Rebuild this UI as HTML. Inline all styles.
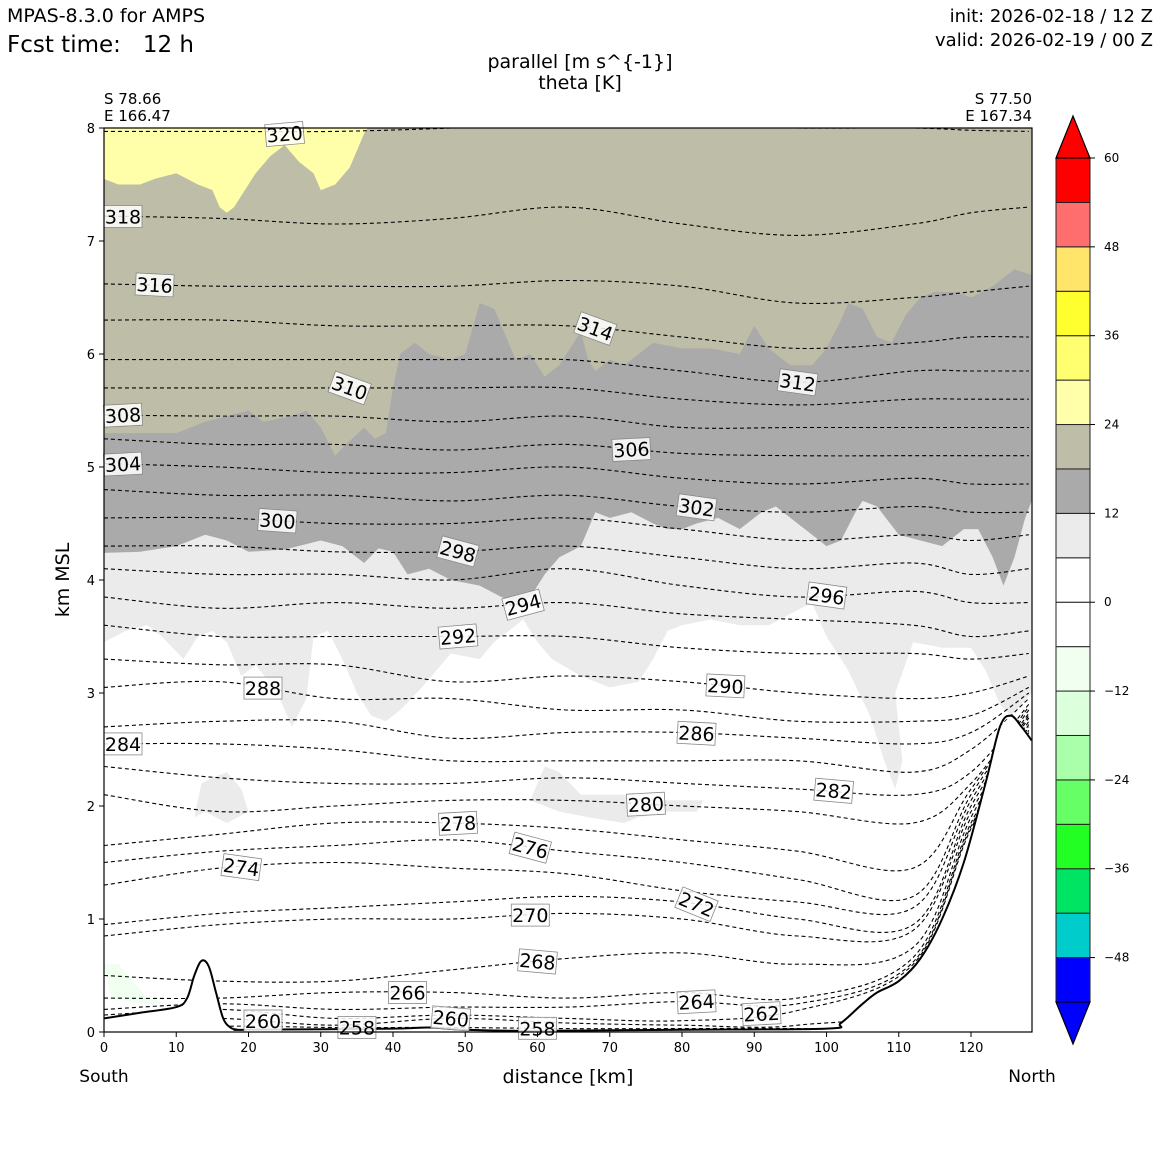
<!DOCTYPE html>
<html><head><meta charset="utf-8"><style>
html,body{margin:0;padding:0;background:#fff;}
svg text{font-family:"DejaVu Sans","Liberation Sans",sans-serif;fill:#000;}
</style></head><body>
<svg id="fig" width="1160" height="1160" viewBox="0 0 1160 1160" xmlns="http://www.w3.org/2000/svg">
<defs><clipPath id="plotclip"><rect x="104" y="128" width="928" height="904"/></clipPath></defs>
<rect width="1160" height="1160" fill="#fff"/>
<text x="7" y="22" font-size="19">MPAS-8.3.0 for AMPS</text>
<text x="7" y="52" font-size="23" xml:space="preserve">Fcst time:   12 h</text>
<text x="1153" y="22" font-size="18" text-anchor="end">init: 2026-02-18 / 12 Z</text>
<text x="1153" y="46" font-size="18" text-anchor="end">valid: 2026-02-19 / 00 Z</text>
<text x="580" y="68" font-size="19" text-anchor="middle">parallel [m s^{-1}]</text>
<text x="580" y="89" font-size="19" text-anchor="middle">theta [K]</text>
<text x="104" y="104" font-size="15">S 78.66</text>
<text x="104" y="121" font-size="15">E 166.47</text>
<text x="1032" y="104" font-size="15" text-anchor="end">S 77.50</text>
<text x="1032" y="121" font-size="15" text-anchor="end">E 167.34</text>
<text x="0" y="0" font-size="19" text-anchor="middle" transform="translate(69,580) rotate(-90)">km MSL</text>
<text x="568" y="1083" font-size="19" text-anchor="middle">distance [km]</text>
<text x="104" y="1082" font-size="17" text-anchor="middle">South</text>
<text x="1032" y="1082" font-size="17" text-anchor="middle">North</text>
<g id="plot" clip-path="url(#plotclip)"></g>
<g id="labels"></g>
<g id="axes"></g>
<g id="cbar"></g>
</svg>
<script>
const xGrid = [0,16,32,48,64,80,96,112,120,128];
const thetaLevels = [258,260,262,264,266,268,270,272,274,276,278,280,282,284,286,288,290,292,294,296,298,300,302,304,306,308,310,312,314,316,318,320];
const thetaHeights = [
[0.0,0.05,0.04,0.04,0.03,0.03,0.03,0.0,0,0],
[0.1,0.12,0.06,0.12,0.08,0.06,0.06,0.3,1.5,2.5],
[0.15,0.2,0.12,0.15,0.12,0.1,0.19,0.6,1.8,2.65],
[0.2,0.25,0.2,0.22,0.22,0.27,0.25,0.62,1.82,2.67],
[0.3,0.3,0.35,0.35,0.3,0.35,0.3,0.66,1.85,2.7],
[0.5,0.45,0.45,0.55,0.65,0.7,0.6,0.75,1.9,2.72],
[0.85,0.95,1.0,1.0,1.05,1.0,0.85,0.9,1.95,2.75],
[0.95,1.05,1.1,1.15,1.2,1.15,1.0,0.95,2.0,2.78],
[1.3,1.45,1.5,1.45,1.4,1.25,1.15,1.1,2.05,2.8],
[1.5,1.6,1.65,1.7,1.6,1.5,1.35,1.2,2.1,2.82],
[1.65,1.75,1.85,1.85,1.8,1.7,1.6,1.45,2.15,2.85],
[2.1,1.95,2.0,2.05,2.05,2.0,1.95,1.85,2.2,2.88],
[2.35,2.25,2.2,2.2,2.25,2.2,2.15,2.1,2.3,2.9],
[2.55,2.55,2.5,2.4,2.4,2.4,2.4,2.3,2.5,2.95],
[2.7,2.75,2.75,2.6,2.65,2.65,2.6,2.55,2.65,3.0],
[3.05,3.1,2.95,2.95,2.85,2.85,2.75,2.75,2.8,3.05],
[3.3,3.25,3.25,3.1,3.15,3.1,3.0,2.95,3.0,3.15],
[3.6,3.5,3.5,3.5,3.5,3.4,3.35,3.35,3.3,3.35],
[3.85,3.75,3.8,3.75,3.8,3.7,3.65,3.6,3.5,3.55],
[4.1,4.05,4.05,4.0,4.1,3.95,3.85,3.9,3.8,3.8],
[4.3,4.3,4.25,4.25,4.3,4.2,4.1,4.15,4.05,4.1],
[4.55,4.55,4.5,4.5,4.55,4.45,4.35,4.4,4.35,4.4],
[4.8,4.75,4.75,4.7,4.75,4.65,4.6,4.65,4.6,4.6],
[5.03,5.0,4.95,4.95,5.0,4.9,4.85,4.9,4.85,4.85],
[5.25,5.2,5.2,5.15,5.2,5.12,5.1,5.1,5.1,5.1],
[5.46,5.45,5.45,5.4,5.45,5.35,5.35,5.35,5.35,5.35],
[5.7,5.7,5.7,5.7,5.7,5.6,5.55,5.6,5.6,5.6],
[5.95,5.95,5.95,5.95,5.95,5.85,5.75,5.85,5.85,5.85],
[6.3,6.3,6.25,6.25,6.25,6.15,6.05,6.1,6.15,6.15],
[6.62,6.6,6.6,6.6,6.65,6.6,6.45,6.5,6.55,6.6],
[7.22,7.2,7.15,7.2,7.3,7.15,7.05,7.15,7.25,7.3],
[7.97,7.97,7.97,8.0,8.05,8.02,8.0,8.0,7.98,7.97]];
const labelLevels = [320,318,316,314,312,310,308,306,304,302,300,298,296,294,292,290,288,286,284,282,280,278,276,274,272,270,268,266,264,262,260,258,260,258];
const labelKm =     [25,2.5,7,68,96,34,2.3,73,2.3,82,24,49,100,58,49,86,22,82,2.5,101,75,49,59,19,82,59,60,42,82,91,48,60,22,35];
const labelAngle =  [-5,0,3,20,8,20,-3,-3,-3,8,4,15,8,-15,-5,3,0,3,0,5,-3,-3,15,8,22,0,5,0,-3,-3,5,0,0,0];
const terrainKm = [0,5,10,11.5,12.5,13.5,14.5,15.5,16.5,17.5,18.5,20,40,45,50,60,80,100,102,105,107,110,113,116,119,122,124,125.5,127,128.4];
const terrainH  = [0.12,0.17,0.22,0.3,0.5,0.63,0.58,0.35,0.12,0.04,0.02,0.02,0.03,0.04,0.02,0.01,0.02,0.03,0.08,0.25,0.35,0.45,0.65,1.0,1.5,2.2,2.7,2.8,2.7,2.58];
const fillLightGrey = [[0,3.45],[3,3.55],[6,3.6],[8,3.5],[11,3.3],[13,3.5],[15,3.55],[17,3.45],[19,3.15],[21,3.25],[24,3.0],[26,2.7],[28,2.95],[29,3.5],[31,3.55],[33,3.3],[35,3.0],[37,2.8],[39,2.75],[41,2.85],[44,3.05],[46,3.2],[48,3.35],[52,3.3],[54,3.45],[56,3.55],[58,3.65],[60,3.45],[62,3.3],[66,3.15],[70,3.05],[74,3.1],[76,3.3],[78,3.55],[80,3.6],[84,3.65],[88,3.6],[92,3.6],[95,3.7],[98,3.8],[100,3.5],[103,3.2],[106,2.8],[108,2.4],[109.5,2.15],[110.5,2.4],[109.5,3.0],[112,3.45],[116,3.4],[120,3.4],[122,3.2],[124,2.9],[125.5,2.8],[127,2.9],[128.4,3.0]];
const fillGrey = [[0,4.24],[5,4.25],[10,4.3],[14,4.4],[17,4.35],[20,4.25],[25,4.27],[30,4.35],[33,4.3],[36,4.15],[38,4.28],[40,4.25],[42,4.05],[45,4.1],[48,4.0],[52,3.95],[55,3.85],[57,3.8],[59,3.85],[61,4.05],[63,4.2],[66,4.3],[68,4.6],[70,4.55],[73,4.6],[76,4.5],[78,4.45],[80,4.45],[82,4.5],[85,4.55],[88,4.45],[91,4.6],[93,4.65],[96,4.5],[98,4.4],[100,4.3],[102,4.35],[104,4.6],[105,4.7],[107,4.65],[110,4.4],[113,4.35],[116,4.3],[119,4.45],[121,4.45],[123,4.2],[124.5,3.95],[126,4.2],[127.5,4.55],[128.4,4.7]];
const fillOlive = [[0,5.3],[5,5.3],[10,5.3],[14,5.4],[20,5.5],[22,5.4],[26,5.45],[28,5.5],[30,5.35],[32,5.1],[33.5,5.2],[36,5.35],[37.5,5.25],[39,5.3],[40,5.7],[41,6.0],[43,6.1],[45,6.0],[48,5.95],[50,6.0],[52,6.45],[54,6.4],[56,6.1],[57,5.95],[59,6.0],[61,5.8],[63,5.9],[65,6.1],[66,6.2],[67,5.95],[68,5.85],[70,5.95],[72,5.9],[74,6.0],[76,6.1],[80,6.05],[84,6.05],[88,6.0],[90,6.25],[92,6.05],[95,5.9],[98,5.9],[100,6.05],[102,6.3],[103,6.45],[105,6.4],[107,6.15],[109,6.1],[111,6.35],[113,6.5],[115,6.55],[118,6.55],[120,6.5],[123,6.6],[126,6.75],[128.4,6.7]];
const fillYellow = [[0,7.55],[2,7.5],[5,7.5],[7,7.55],[10,7.6],[13,7.5],[15,7.45],[16,7.3],[17,7.25],[18,7.3],[19,7.4],[21,7.6],[23,7.75],[25,7.85],[27,7.7],[29,7.6],[30,7.45],[32,7.5],[34,7.65],[35,7.8],[36,7.95],[36.5,8.0]];
const blobA = [[12.5,1.9],[13.5,2.2],[15,2.25],[17,2.3],[19,2.15],[20,1.95],[17,1.85],[14,1.95]];
const blobB = [[59,2.05],[61,2.35],[63,2.3],[66,2.1],[70,2.1],[74,2.1],[78,2.05],[83,2.05],[82,1.95],[78,1.95],[74,1.9],[72,1.85],[67,1.9],[63,1.95]];
const blobGreen = [[0,0.6],[2,0.6],[4,0.45],[6,0.3],[9,0.25],[5,0.25],[1,0.3]];
const cbLevels = [-54,-48,-42,-36,-30,-24,-18,-12,-6,0,6,12,18,24,30,36,42,48,54,60];
const cbColors = ['#0000ff','#00cccc','#00e464','#22ff22','#66ff66','#aaffaa','#dcffdc','#f0fff0','#ffffff','#ffffff','#ebebeb','#aaaaaa','#bebea8','#ffffaa','#ffff70','#ffff30','#ffe66a','#ff6e6e','#ff0000'];
const cbTicks = [60,48,36,24,12,0,-12,-24,-36,-48];
const xTicks = [0,10,20,30,40,50,60,70,80,90,100,110,120];
const yTicks = [0,1,2,3,4,5,6,7,8];

const NS='http://www.w3.org/2000/svg';
const X0=104,X1=1032,Y0=1032,Y1=128,KMAX=128.44;
const sx=k=>X0+k*(X1-X0)/KMAX;
const sy=h=>Y0-h*(Y0-Y1)/8;
function mk(tag,attrs,parent){const e=document.createElementNS(NS,tag);for(const k in attrs)e.setAttribute(k,attrs[k]);parent.appendChild(e);return e;}
const plot=document.getElementById('plot'),labels=document.getElementById('labels'),axes=document.getElementById('axes'),cbar=document.getElementById('cbar');
function smooth(pts){let d='M'+pts[0][0].toFixed(1)+','+pts[0][1].toFixed(1);
 for(let i=0;i<pts.length-1;i++){const p0=pts[Math.max(0,i-1)],p1=pts[i],p2=pts[i+1],p3=pts[Math.min(pts.length-1,i+2)];
 const c1=[p1[0]+(p2[0]-p0[0])/6,p1[1]+(p2[1]-p0[1])/6],c2=[p2[0]-(p3[0]-p1[0])/6,p2[1]-(p3[1]-p1[1])/6];
 d+='C'+c1[0].toFixed(1)+','+c1[1].toFixed(1)+' '+c2[0].toFixed(1)+','+c2[1].toFixed(1)+' '+p2[0].toFixed(1)+','+p2[1].toFixed(1);}return d;}
function topFill(poly,color,name){const pts=poly.map(p=>[sx(p[0]),sy(p[1])]);
 let d='M'+sx(0)+','+(Y1-5)+' L'+pts.map(p=>p[0].toFixed(1)+','+p[1].toFixed(1)).join(' L')+' L'+(X1+5)+','+pts[pts.length-1][1].toFixed(1)+' L'+(X1+5)+','+(Y1-5)+'Z';
 const e=mk('path',{d:d,fill:color},plot);}
function closedFill(poly,color,name){const d='M'+poly.map(p=>sx(p[0]).toFixed(1)+','+sy(p[1]).toFixed(1)).join(' L')+'Z';
 const e=mk('path',{d:d,fill:color},plot);}
topFill(fillLightGrey,'#ebebeb','wind-6-12-region');
topFill(fillGrey,'#aaaaaa','wind-12-18-region');
topFill(fillOlive,'#bebea8','wind-18-24-region');
{const pts=fillYellow;const d='M'+sx(0)+','+(Y1-5)+' L'+pts.map(p=>sx(p[0]).toFixed(1)+','+sy(p[1]).toFixed(1)).join(' L')+' L'+sx(pts[pts.length-1][0])+','+(Y1-5)+'Z';
 const e=mk('path',{d:d,fill:'#ffffaa'},plot);}
closedFill(blobA,'#ebebeb','wind-blob-a');
closedFill(blobB,'#ebebeb','wind-blob-b');
closedFill(blobGreen,'#f0fff0','wind-negative-blob');
function interp(arrX,arrY,k){for(let i=0;i<arrX.length-1;i++){if(k>=arrX[i]&&k<=arrX[i+1]){const t=(k-arrX[i])/(arrX[i+1]-arrX[i]);return arrY[i]+t*(arrY[i+1]-arrY[i]);}}return arrY[arrY.length-1];}
thetaLevels.forEach((lv,i)=>{const pts=xGrid.map((k,j)=>[sx(k),sy(thetaHeights[i][j])]);
 const e=mk('path',{d:smooth(pts),fill:'none',stroke:'#000','stroke-width':1.1,'stroke-dasharray':'4,3'},plot);
 
 });
{const d='M'+sx(0)+','+(Y0+2)+' L'+terrainKm.map((k,i)=>sx(k).toFixed(1)+','+sy(terrainH[i]).toFixed(1)).join(' L')+' L'+(X1+2)+','+(Y0+2)+'Z';
 const t=mk('path',{d:d,fill:'#fff'},plot);
 const l=mk('path',{d:smooth(terrainKm.map((k,i)=>[sx(k),sy(terrainH[i])])),fill:'none',stroke:'#000','stroke-width':2},plot);
 }
labelLevels.forEach((lv,i)=>{const li=thetaLevels.indexOf(lv);const k=labelKm[i];
 const h=Math.min(7.97,interp(xGrid,thetaHeights[li],k));
 const cx=Math.max(sx(k),X0+19),cy=Math.max(sy(h),Y1+6);
 const g=mk('g',{transform:'translate('+cx.toFixed(1)+','+cy.toFixed(1)+') rotate('+labelAngle[i]+')'},labels);
 
 
 mk('rect',{x:-19,y:-11,width:38,height:22,fill:'#fff','fill-opacity':0.85,stroke:'#888','stroke-width':0.8},g);
 const t=mk('text',{x:0,y:7,'font-size':19,'text-anchor':'middle'},g);t.textContent=lv;});
{const f=mk('rect',{x:X0,y:Y1,width:X1-X0,height:Y0-Y1,fill:'none',stroke:'#000','stroke-width':1.2},axes);}
xTicks.forEach(v=>{mk('line',{x1:sx(v),x2:sx(v),y1:Y0,y2:Y0+5,stroke:'#000'},axes);
 const t=mk('text',{x:sx(v),y:Y0+20,'font-size':13,'text-anchor':'middle'},axes);t.textContent=v;
 });
yTicks.forEach(v=>{mk('line',{x1:X0-5,x2:X0,y1:sy(v),y2:sy(v),stroke:'#000'},axes);
 const t=mk('text',{x:X0-9,y:sy(v)+5,'font-size':13,'text-anchor':'end'},axes);t.textContent=v;
 });
const CX0=1056,CX1=1090,CB0=1002,CB1=158;
const cy=v=>CB0-(v-cbLevels[0])*(CB0-CB1)/(cbLevels[cbLevels.length-1]-cbLevels[0]);
cbColors.forEach((c,i)=>{const r=mk('rect',{x:CX0,y:cy(cbLevels[i+1]),width:CX1-CX0,height:cy(cbLevels[i])-cy(cbLevels[i+1]),fill:c,stroke:'#222','stroke-width':1},cbar);
 });
{const a=mk('path',{d:'M'+CX0+','+CB1+' L'+(CX0+CX1)/2+',116 L'+CX1+','+CB1+'Z',fill:'#ff0000',stroke:'#000','stroke-width':1.2},cbar);
 const b=mk('path',{d:'M'+CX0+','+CB0+' L'+(CX0+CX1)/2+',1044 L'+CX1+','+CB0+'Z',fill:'#0000ff',stroke:'#000','stroke-width':1.2},cbar);}
cbTicks.forEach(v=>{mk('line',{x1:CX1,x2:CX1+5,y1:cy(v),y2:cy(v),stroke:'#000'},cbar);
 const t=mk('text',{x:CX1+14,y:cy(v)+4,'font-size':12},cbar);t.textContent=v<0?'\u2212'+(-v):v;
 });
</script>
</body></html>
